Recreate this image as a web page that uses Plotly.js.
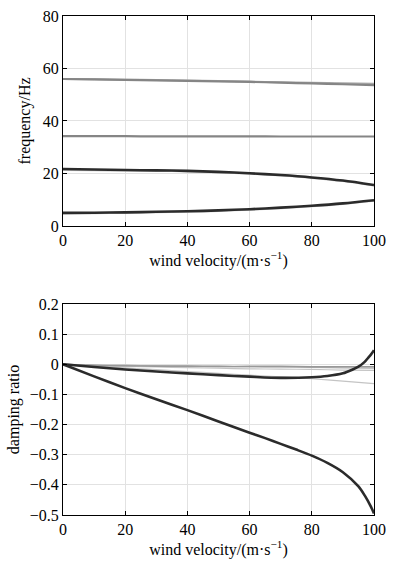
<!DOCTYPE html>
<html>
<head>
<meta charset="utf-8">
<script src="https://cdn.plot.ly/plotly-3.0.1.min.js"></script>
<style>html,body{margin:0;padding:0;background:#fff;}#chart{width:399px;height:564px;}</style>
</head>
<body>
<div id="chart"></div>
<script>
// ---- data ----
const velocity = [0,10,20,30,40,50,60,70,80,90,100];

// natural frequencies (Hz)
const freqMode1 = [5.0,5.05,5.2,5.4,5.6,5.95,6.4,7.0,7.7,8.6,9.8];
const freqMode1b = [4.8,4.85,5.0,5.2,5.4,5.75,6.2,6.8,7.5,8.4,9.6];
const freqMode2 = [21.7,21.5,21.3,21.2,21.0,20.6,20.1,19.4,18.5,17.3,15.6];
const freqMode2b = [21.3,21.2,21.1,21.0,20.8,20.4,19.9,19.2,18.3,17.1,15.4];
const freqMode3 = [34.2,34.2,34.2,34.15,34.15,34.15,34.15,34.1,34.1,34.1,34.1];
const freqMode4 = [56.0,55.85,55.7,55.5,55.3,55.1,54.9,54.6,54.3,54.0,53.7];
const freqMode4b = [56.0,55.9,55.75,55.6,55.4,55.2,55.0,54.8,54.6,54.4,54.2];

// damping ratios
const dampVelocity1 = [0,10,20,30,40,50,60,65,70,75,80,85,90,95,97,99,100];
const dampMode1 = [0,-0.04,-0.079,-0.116,-0.152,-0.19,-0.227,-0.245,-0.264,-0.283,-0.303,-0.327,-0.358,-0.405,-0.435,-0.472,-0.495];
const dampVelocity2 = [0,10,20,30,40,50,60,70,80,85,90,93,95,97,98,99,100];
const dampMode2 = [0,-0.009,-0.017,-0.024,-0.03,-0.036,-0.041,-0.045,-0.043,-0.039,-0.03,-0.018,-0.008,0.008,0.02,0.032,0.047];
const dampGrayA = [0,-0.004,-0.005,-0.006,-0.006,-0.007,-0.007,-0.007,-0.008,-0.008,-0.008];
const dampGrayB = [0,-0.002,-0.003,-0.005,-0.006,-0.007,-0.008,-0.009,-0.010,-0.012,-0.013];
const dampGrayC = [0,-0.004,-0.007,-0.009,-0.011,-0.013,-0.015,-0.016,-0.017,-0.019,-0.020];
const dampGrayD = [0,-0.006,-0.012,-0.018,-0.024,-0.030,-0.036,-0.042,-0.048,-0.056,-0.064];

const xTickVals = [0,20,40,60,80,100];
const freqTickVals = [0,20,40,60,80];
const dampTickVals = [0.2,0.1,0,-0.1,-0.2,-0.3,-0.4,-0.5];

// ---- traces ----
const DARK = '#2b2b2b', MID = '#858585', LIGHT = '#c4c4c4';
function line(x, y, color, width, xa, ya) {
  return {x: x, y: y, type: 'scatter', mode: 'lines', xaxis: xa, yaxis: ya,
          line: {color: color, width: width, shape: 'spline', smoothing: 0.8},
          hoverinfo: 'skip', showlegend: false};
}
const traces = [
  line(velocity, freqMode1b, LIGHT, 2, 'x', 'y'),
  line(velocity, freqMode2b, LIGHT, 2, 'x', 'y'),
  line(velocity, freqMode4b, '#aaaaaa', 2, 'x', 'y'),
  line(velocity, freqMode3, MID, 2.2, 'x', 'y'),
  line(velocity, freqMode4, MID, 2.2, 'x', 'y'),
  line(velocity, freqMode1, DARK, 2.6, 'x', 'y'),
  line(velocity, freqMode2, DARK, 2.6, 'x', 'y'),

  line(velocity, dampGrayD, LIGHT, 1.2, 'x2', 'y2'),
  line(velocity, dampGrayC, LIGHT, 1.2, 'x2', 'y2'),
  line(velocity, dampGrayB, '#b0b0b0', 1.2, 'x2', 'y2'),
  line(velocity, dampGrayA, '#999999', 1.6, 'x2', 'y2'),
  line(dampVelocity2, dampMode2, DARK, 2.6, 'x2', 'y2'),
  line(dampVelocity1, dampMode1, DARK, 2.6, 'x2', 'y2')
];

// ---- layout ----
const FONT = {family: 'Liberation Serif, Times New Roman, serif', size: 16, color: '#000'};
function xAxis(anchor) {
  return {anchor: anchor, domain: [0,1], range: [0,100], tickvals: xTickVals,
          showline: true, linecolor: '#000', linewidth: 1, mirror: 'ticks',
          ticks: 'inside', ticklen: 4, tickcolor: '#000', tickwidth: 1,
          showgrid: true, gridcolor: '#e2e2e2', gridwidth: 1, zeroline: false,
          tickfont: FONT,
          title: {text: 'wind velocity/(m·s<sup>−1</sup>)', font: FONT, standoff: 6}};
}
const layout = {
  width: 399, height: 564,
  margin: {l: 63, r: 25, t: 16, b: 49},
  paper_bgcolor: '#fff', plot_bgcolor: '#fff',
  font: FONT,
  xaxis: xAxis('y'),
  xaxis2: xAxis('y2'),
  yaxis: {anchor: 'x', domain: [0.5792, 1], range: [0, 80], tickvals: freqTickVals,
          showline: true, linecolor: '#000', linewidth: 1, mirror: 'ticks',
          ticks: 'inside', ticklen: 4, tickcolor: '#000',
          showgrid: true, gridcolor: '#e2e2e2', zeroline: false, tickfont: FONT,
          title: {text: 'frequency/Hz', font: FONT, standoff: 8}},
  yaxis2: {anchor: 'x2', domain: [0, 0.4228], range: [-0.5, 0.2], tickvals: dampTickVals,
          showline: true, linecolor: '#000', linewidth: 1, mirror: 'ticks',
          ticks: 'inside', ticklen: 4, tickcolor: '#000',
          showgrid: true, gridcolor: '#e2e2e2', zeroline: false, tickfont: FONT,
          title: {text: 'damping ratio', font: FONT, standoff: 6}}
};

Plotly.newPlot('chart', traces, layout, {staticPlot: true, displayModeBar: false});
</script>
</body>
</html>
